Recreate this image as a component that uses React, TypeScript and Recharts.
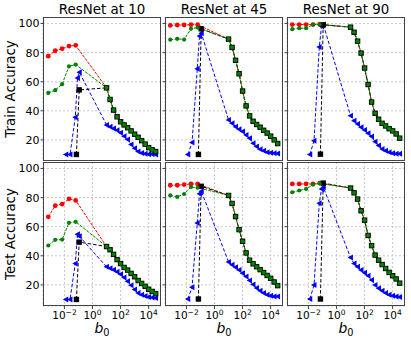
import React from 'react';
import { LineChart, Line, XAxis, YAxis, CartesianGrid } from 'recharts';

// b0 values (x) for each kind of series
const B0_RG = [0.0007, 0.0022, 0.0068, 0.021, 0.063];
const B0_BLUE = [0.0126, 0.025, 0.059, 0.085, 0.115];
const B0_BLACK = [0.071, 0.112];
const B0_SWEEP = [10, 17.8, 31.6, 56.2, 100, 178, 316, 562, 1000, 1778, 3162, 5623, 10000, 17783, 31623];

const TITLES = ['ResNet at 10', 'ResNet at 45', 'ResNet at 90'];
const ROW_LABELS = ['Train Accuracy', 'Test Accuracy'];
const X_TICKS = [0.01, 1, 100, 10000];
const Y_TICKS = [20, 40, 60, 80, 100];

// train accuracy, ResNet at 10
const train10Red = [77.6, 81.3, 82.7, 84.5, 85];
const train10Green = [52.3, 54.2, 58.3, 70.6, 71.8];
const train10Blue = [10, 10, 35.5, 62.5, 66.5];
const train10Black = [10, 54.4];
const train10Sweep = [55.8, 47.8, 40.5, 35.9, 32.5, 30.3, 28.4, 26.2, 23.9, 21.8, 19.5, 17.1, 14.7, 13.2, 12];
const train10BlueSweep = [30.3, 29.1, 27.8, 26.7, 24.9, 22.6, 20.2, 16.8, 14.2, 12.0, 11.0, 10.5, 10.2, 10.1, 10.0];

// test accuracy, ResNet at 10
const test10Red = [66.8, 74.5, 75.6, 79.2, 78.1];
const test10Green = [47.1, 51, 51.2, 62.7, 63.4];
const test10Blue = [10, 10, 34.7, 54.8, 53.5];
const test10Black = [10, 49.4];
const test10Sweep = [46.4, 44.2, 41, 37.4, 34.7, 32, 30.2, 27.9, 25.6, 23, 21, 19, 17, 15.5, 14];
const test10BlueSweep = [32.4, 31.5, 30.4, 29, 27.3, 25.1, 22.6, 19.7, 16.9, 14.5, 13.2, 12.3, 11.7, 11.3, 11];

// train accuracy, ResNet at 45
const train45Red = [98.7, 99, 99, 99.2, 99.2];
const train45Green = [88.9, 89.5, 89, 96.4, 97.2];
const train45Blue = [10, 18.2, 69, 91.5, 93.3];
const train45Black = [10, 96.4];
const train45Sweep = [89.3, 83.6, 74.7, 65.5, 53.6, 43.4, 36.5, 32.8, 30.6, 28.7, 26.6, 24.7, 22.6, 20, 17.5];
const train45BlueSweep = [33.7, 31.4, 29.1, 27.3, 25.7, 23.4, 21.2, 17.7, 15.4, 13.6, 12.5, 11.6, 11.1, 10.8, 10.6];

// test accuracy, ResNet at 45
const test45Red = [88.5, 88.5, 89, 89.4, 89.4];
const test45Green = [81.5, 80.5, 82.5, 87.3, 86.8];
const test45Blue = [10.3, 18.4, 62.5, 82.6, 84.4];
const test45Black = [10.3, 87.8];
const test45Sweep = [81.5, 76, 67, 58, 50, 42, 37, 34.5, 32.5, 30.5, 28.5, 26.5, 24.5, 22, 19.5];
const test45BlueSweep = [35.8, 33.8, 32.2, 30.3, 28, 25.7, 23, 20.2, 17.8, 15.9, 14.4, 13.2, 12.5, 12.1, 12];

// train accuracy, ResNet at 90
const train90Red = [99.3, 99.3, 99.3, 99.3, 99.5];
const train90Green = [96.1, 96.8, 96.8, 99.3, 99.3];
const train90Blue = [10, 19.5, 83.8, 98.2, 99.3];
const train90Black = [10.2, 99.1];
const train90Sweep = [97.5, 94, 87.9, 79.7, 69.4, 58.1, 46, 38.3, 34.2, 31.4, 29.6, 27.7, 26.2, 24.1, 21.2];
const train90BlueSweep = [36.6, 33.2, 30.9, 28.7, 26.8, 24.6, 22.3, 18.8, 16.1, 13.8, 12.5, 11.6, 10.9, 10.4, 10.4];

// test accuracy, ResNet at 90
const test90Red = [89.4, 89.4, 89.4, 89.4, 90];
const test90Green = [83.7, 84.9, 86, 89, 89.8];
const test90Blue = [10.3, 20, 76.1, 86, 87.1];
const test90Black = [10.3, 90];
const test90Sweep = [86.6, 83.3, 79, 71, 64.5, 54, 47, 40.5, 37, 34, 31.3, 28.6, 26.3, 24.1, 21.2];
const test90BlueSweep = [38.8, 34.7, 32.4, 30.2, 28.3, 26.3, 23.4, 20, 17.7, 15.9, 14.4, 13.2, 12.5, 12.1, 11.7];

const X_DOMAIN = [0.000295, 75900];
const Y_DOMAIN = [5.5, 104.5];

const COL_LEFT = [43, 165, 287];
const ROW_TOP = [17, 162];
const PW = 118;
const PH = 144;
const FONT = 'DejaVu Sans, sans-serif';

type Pt = { x: number; y: number };
const zip = (xs: number[], ys: number[]): Pt[] => xs.map((x, i) => ({ x, y: ys[i] }));

function panel(red: number[], green: number[], blue: number[], black: number[], sweep: number[], blueSweep: number[]) {
  return {
    red: zip([...B0_RG, ...B0_SWEEP], [...red, ...sweep]),
    green: zip([...B0_RG, ...B0_SWEEP], [...green, ...sweep]),
    blue: zip([...B0_BLUE, ...B0_SWEEP], [...blue, ...blueSweep]),
    black: zip([...B0_BLACK, ...B0_SWEEP], [...black, ...sweep]),
  };
}

const PANELS = [
  [
    panel(train10Red, train10Green, train10Blue, train10Black, train10Sweep, train10BlueSweep),
    panel(train45Red, train45Green, train45Blue, train45Black, train45Sweep, train45BlueSweep),
    panel(train90Red, train90Green, train90Blue, train90Black, train90Sweep, train90BlueSweep),
  ],
  [
    panel(test10Red, test10Green, test10Blue, test10Black, test10Sweep, test10BlueSweep),
    panel(test45Red, test45Green, test45Blue, test45Black, test45Sweep, test45BlueSweep),
    panel(test90Red, test90Green, test90Blue, test90Black, test90Sweep, test90BlueSweep),
  ],
];

const circleDot = (color: string, r: number) => (p: any) => (
  <circle key={`c${p.index}`} cx={p.cx} cy={p.cy} r={r} fill={color} />
);
const squareDot = (p: any) => (
  <rect key={`s${p.index}`} x={p.cx - 2.7} y={p.cy - 2.7} width={5.4} height={5.4} fill="#000" />
);
const triDot = (p: any) => (
  <path
    key={`t${p.index}`}
    d={`M${p.cx - 3},${p.cy} L${p.cx + 2.4},${p.cy - 3} L${p.cx + 2.4},${p.cy + 3} Z`}
    fill="#0000ff"
  />
);

function PowTick({ x, y, payload }: any) {
  const e = Math.round(Math.log10(payload.value));
  return (
    <text x={x} y={y + 8} textAnchor="middle" fontSize={10.5} fontFamily={FONT} fill="#000">
      <tspan>10</tspan>
      <tspan dy={-4.5} fontSize={7.5}>{e < 0 ? '\u2212' + -e : String(e)}</tspan>
    </text>
  );
}

function Panel({ row, col }: { row: number; col: number }) {
  const d = PANELS[row][col];
  const yw = col === 0 ? 43 : 4;
  const xh = row === 1 ? 34 : 0;
  return (
    <div style={{ position: 'absolute', left: COL_LEFT[col] - yw, top: ROW_TOP[row] }}>
      <LineChart width={yw + PW} height={PH + xh} margin={{ top: 0, right: 0, bottom: 0, left: 0 }}>
        <CartesianGrid stroke="#c8c8c8" strokeDasharray="2 2" />
        <XAxis
          dataKey="x"
          type="number"
          scale="log"
          domain={X_DOMAIN}
          allowDataOverflow
          ticks={X_TICKS}
          interval={0}
          height={xh}
          axisLine={false}
          tickLine={row === 1}
          tickSize={3}
          stroke="#444"
          tick={row === 1 ? <PowTick /> : false}
        />
        <YAxis
          type="number"
          domain={Y_DOMAIN}
          allowDataOverflow
          ticks={Y_TICKS}
          interval={0}
          width={yw}
          axisLine={false}
          tickSize={2.5}
          tickMargin={1}
          stroke="#444"
          tickFormatter={col === 0 ? (v: number) => String(v) : () => ''}
          tick={{ fontSize: 11, fill: '#000', fontFamily: FONT }}
        />
        <Line data={d.red} dataKey="y" stroke="#ff0000" strokeWidth={1} strokeDasharray="3 1.2"
          dot={circleDot('#ff0000', 2.4)} activeDot={false} isAnimationActive={false} />
        <Line data={d.blue} dataKey="y" stroke="#0000ff" strokeWidth={1} strokeDasharray="3.5 2"
          dot={triDot} activeDot={false} isAnimationActive={false} />
        <Line data={d.black} dataKey="y" stroke="#000" strokeWidth={1} strokeDasharray="3.5 2"
          dot={squareDot} activeDot={false} isAnimationActive={false} />
        <Line data={d.green} dataKey="y" stroke="#008000" strokeWidth={1} strokeDasharray="3 1.2"
          dot={circleDot('#008000', 2.1)} activeDot={false} isAnimationActive={false} />
      </LineChart>
    </div>
  );
}

export default function App() {
  return (
    <div style={{ position: 'absolute', left: 0, top: 0, width: 411, height: 341, background: '#fff' }}>
      {[0, 1].map((r) => [0, 1, 2].map((c) => <Panel key={`${r}-${c}`} row={r} col={c} />))}
      <svg width={411} height={341} style={{ position: 'absolute', left: 0, top: 0, pointerEvents: 'none' }}>
        {[0, 1].map((r) =>
          [0, 1, 2].map((c) => (
            <rect key={`f${r}${c}`} x={COL_LEFT[c] + 0.5} y={ROW_TOP[r] + 0.5} width={PW - 1} height={PH - 1}
              fill="none" stroke="#444" strokeWidth={1} />
          ))
        )}
        {TITLES.map((t, c) => (
          <text key={t} x={COL_LEFT[c] + PW / 2} y={14} textAnchor="middle" fontSize={13.4} fontFamily={FONT} fill="#000">
            {t}
          </text>
        ))}
        {ROW_LABELS.map((t, r) => (
          <text key={t} transform={`translate(15, ${ROW_TOP[r] + PH / 2}) rotate(-90)`} textAnchor="middle"
            fontSize={13.4} fontFamily={FONT} fill="#000">
            {t}
          </text>
        ))}
        {TITLES.map((t, c) => (
          <text key={`b${c}`} x={COL_LEFT[c] + PW / 2} y={333} textAnchor="middle" fontSize={14} fontFamily={FONT} fill="#000">
            <tspan fontStyle="italic">b</tspan>
            <tspan fontSize={9.8} dy={3}>0</tspan>
          </text>
        ))}
      </svg>
    </div>
  );
}
